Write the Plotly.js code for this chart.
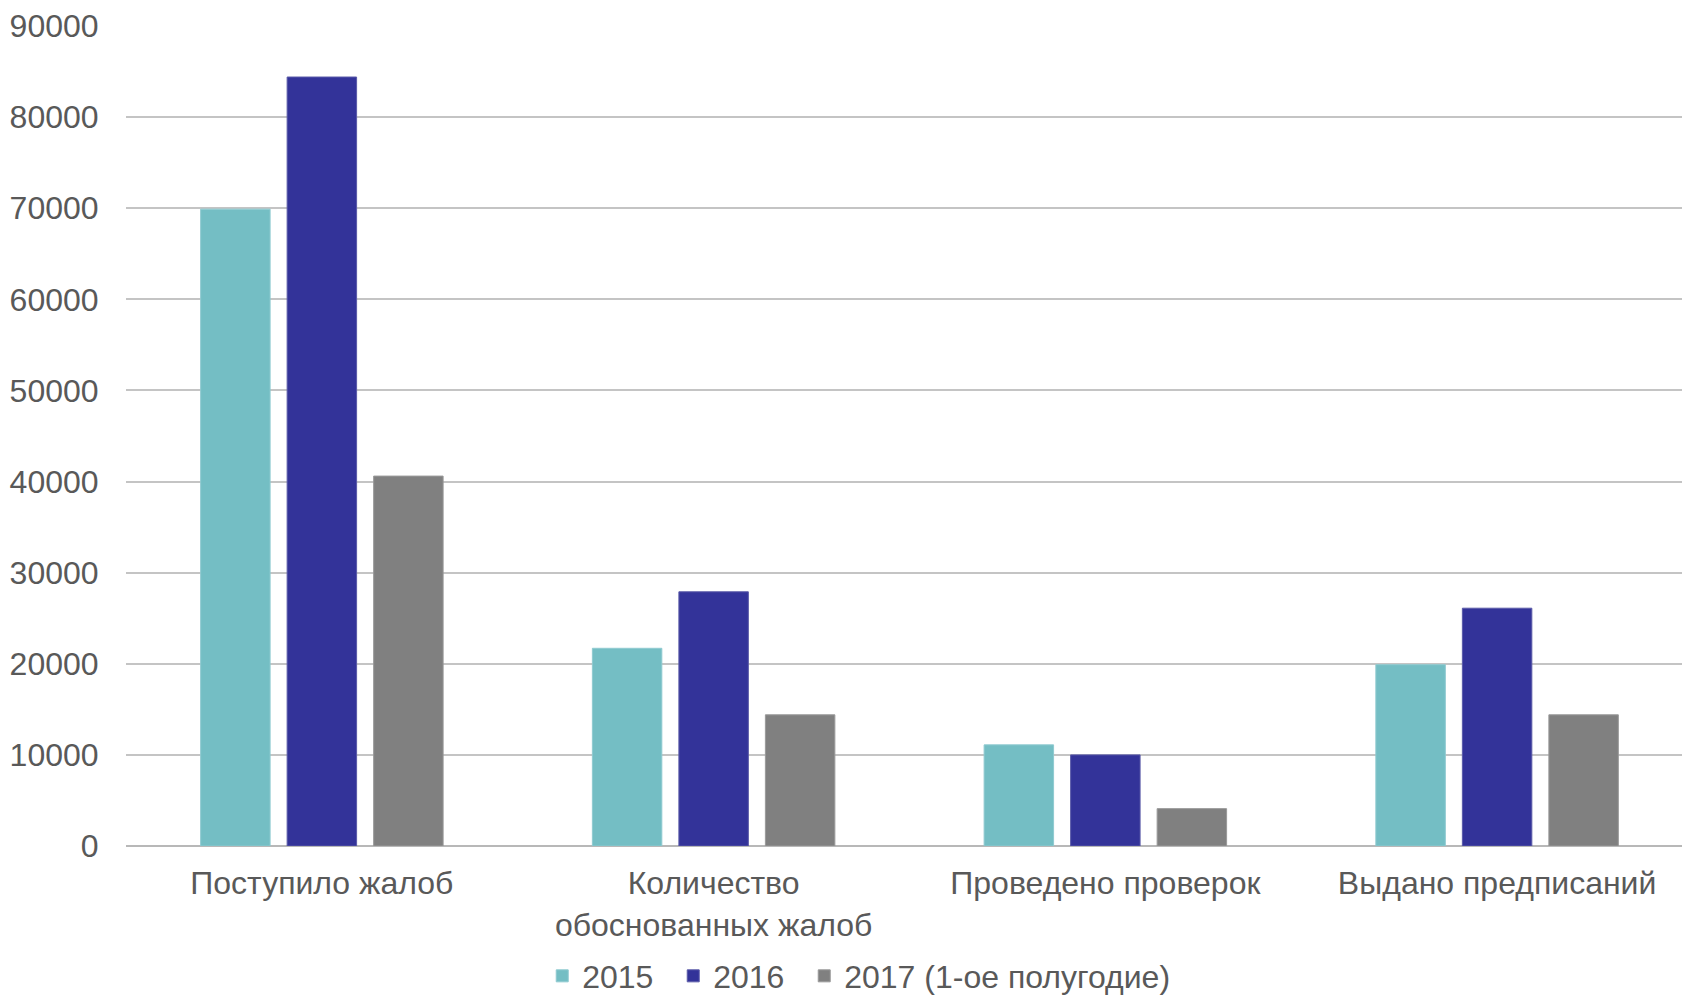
<!DOCTYPE html>
<html>
<head>
<meta charset="utf-8">
<script src="https://cdn.plot.ly/plotly-3.0.1.min.js"></script>
<style>
  html, body { margin: 0; padding: 0; background: #ffffff; }
  #chart { width: 1682px; height: 998px; }
</style>
</head>
<body>
<div id="chart"></div>
<script>
// Data
const categories = [
  "Поступило жалоб",
  "Количество<br>обоснованных жалоб",
  "Проведено проверок",
  "Выдано предписаний"
];
const seriesNames = ["2015", "2016", "2017 (1-ое полугодие)"];
const values2015 = [69900, 21700, 11100, 19900];
const values2016 = [84400, 27900, 10000, 26100];
const values2017 = [40600, 14400, 4100, 14400];
const yTicks = [0, 10000, 20000, 30000, 40000, 50000, 60000, 70000, 80000, 90000];

const colors = ["#74bec4", "#333399", "#808080"];
const lineColors = ["#8fcad0", "#5a5aa8", "#999999"];
const legendWidths = [86, 86, 360];
const allValues = [values2015, values2016, values2017];

const font = "Liberation Sans, Arial, sans-serif";

const traces = allValues.map((vals, i) => ({
  type: "bar",
  name: seriesNames[i],
  x: categories,
  y: vals,
  legendwidth: legendWidths[i],
  marker: { color: colors[i], line: { color: lineColors[i], width: 1 } },
  hoverinfo: "x+y+name"
}));

const layout = {
  width: 1682,
  height: 998,
  margin: { l: 126, r: 0, t: 26, b: 152, autoexpand: false },
  paper_bgcolor: "#ffffff",
  plot_bgcolor: "#ffffff",
  barmode: "group",
  bargap: 0.3375,
  bargroupgap: 0.197,
  font: { family: font, size: 32, color: "#595959" },
  xaxis: {
    type: "category",
    range: [-0.5, 3.472],
    showgrid: false,
    showline: false,
    zeroline: false,
    ticks: "outside",
    ticklen: 9,
    tickcolor: "rgba(0,0,0,0)",
    tickfont: { family: font, size: 32, color: "#595959" },
    automargin: false,
    fixedrange: true
  },
  yaxis: {
    range: [0, 90000],
    tickvals: yTicks,
    ticktext: yTicks.map(String),
    showgrid: true,
    gridcolor: "#c4c4c4",
    gridwidth: 2,
    zeroline: true,
    zerolinecolor: "#b8b8b8",
    zerolinewidth: 2,
    showline: false,
    ticks: "outside",
    ticklen: 20,
    tickcolor: "rgba(0,0,0,0)",
    tickfont: { family: font, size: 32, color: "#595959" },
    automargin: false,
    fixedrange: true
  },
  showlegend: true,
  legend: {
    orientation: "h",
    x: 0.2675,
    xanchor: "left",
    yref: "container",
    y: 0.022,
    yanchor: "middle",
    font: { family: font, size: 32, color: "#595959" },
    itemwidth: 30,
    entrywidthmode: "pixels",
    traceorder: "normal"
  }
};

Plotly.newPlot("chart", traces, layout, { displayModeBar: false, staticPlot: true });
</script>
</body>
</html>
